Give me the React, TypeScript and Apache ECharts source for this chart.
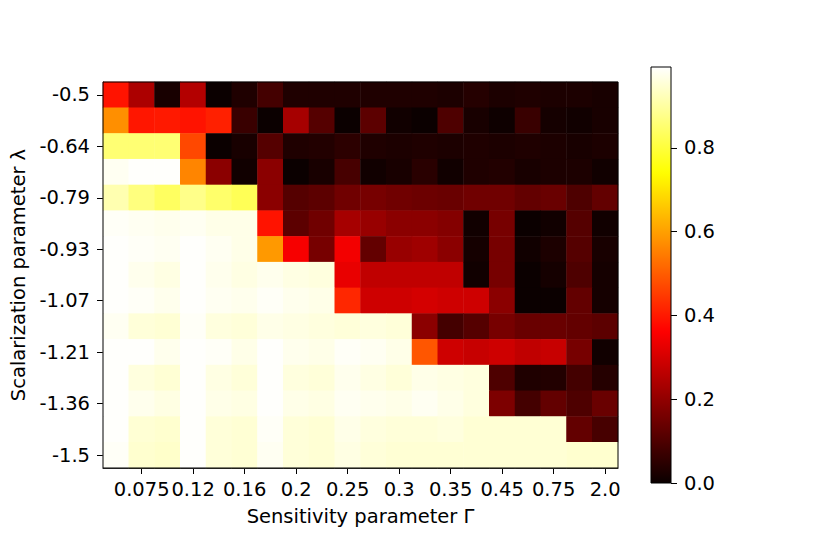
import React, { useEffect, useRef } from "react";
import * as echarts from "echarts";

const xCategories = [
  "0.05", "0.075", "0.1", "0.12", "0.14", "0.16", "0.18", "0.2", "0.22", "0.25",
  "0.28", "0.3", "0.32", "0.35", "0.4", "0.45", "0.6", "0.75", "1.0", "2.0",
];
const yCategories = [
  "-0.5", "-0.57", "-0.64", "-0.71", "-0.79", "-0.86", "-0.93", "-1.0",
  "-1.07", "-1.14", "-1.21", "-1.29", "-1.36", "-1.43", "-1.5",
];
const row0 = [0.39, 0.24, 0.02, 0.25, 0.0, 0.03, 0.085, 0.03, 0.03, 0.03, 0.03, 0.03, 0.03, 0.025, 0.04, 0.025, 0.03, 0.025, 0.025, 0.02];
const row1 = [0.575, 0.395, 0.4, 0.39, 0.41, 0.07, 0.0, 0.23, 0.11, 0.0, 0.12, 0.01, 0.0, 0.1, 0.02, 0.005, 0.07, 0.015, 0.01, 0.02];
const row2 = [0.855, 0.855, 0.855, 0.47, 0.0, 0.02, 0.11, 0.03, 0.035, 0.05, 0.03, 0.025, 0.03, 0.025, 0.03, 0.025, 0.03, 0.025, 0.02, 0.025];
const row3 = [0.98, 0.99, 0.99, 0.56, 0.19, 0.01, 0.19, 0.0, 0.02, 0.09, 0.01, 0.02, 0.045, 0.01, 0.03, 0.035, 0.02, 0.025, 0.025, 0.01];
const row4 = [0.915, 0.866, 0.836, 0.876, 0.846, 0.826, 0.19, 0.11, 0.12, 0.15, 0.16, 0.15, 0.145, 0.14, 0.15, 0.15, 0.13, 0.14, 0.1, 0.13];
const row5 = [0.985, 0.98, 0.975, 0.98, 0.97, 0.97, 0.39, 0.12, 0.15, 0.23, 0.21, 0.19, 0.19, 0.18, 0.01, 0.16, 0.0, 0.01, 0.11, 0.01];
const row6 = [0.99, 0.985, 0.98, 0.99, 0.98, 0.97, 0.59, 0.35, 0.16, 0.345, 0.13, 0.21, 0.22, 0.19, 0.015, 0.16, 0.01, 0.025, 0.11, 0.02];
const row7 = [0.99, 0.975, 0.965, 0.99, 0.975, 0.965, 0.975, 0.965, 0.96, 0.33, 0.27, 0.27, 0.27, 0.27, 0.01, 0.16, 0.0, 0.015, 0.1, 0.015];
const row8 = [0.99, 0.985, 0.975, 0.99, 0.98, 0.975, 0.985, 0.975, 0.97, 0.42, 0.29, 0.29, 0.3, 0.29, 0.29, 0.19, 0.0, 0.0, 0.13, 0.015];
const row9 = [0.98, 0.955, 0.95, 0.985, 0.96, 0.955, 0.97, 0.965, 0.96, 0.955, 0.96, 0.955, 0.19, 0.085, 0.11, 0.16, 0.14, 0.14, 0.13, 0.12];
const row10 = [0.99, 0.99, 0.975, 0.99, 0.985, 0.97, 0.99, 0.975, 0.97, 0.985, 0.98, 0.97, 0.49, 0.29, 0.28, 0.29, 0.27, 0.28, 0.16, 0.01];
const row11 = [0.99, 0.96, 0.95, 0.99, 0.965, 0.955, 0.99, 0.96, 0.955, 0.975, 0.965, 0.955, 0.97, 0.965, 0.96, 0.1, 0.03, 0.035, 0.085, 0.04];
const row12 = [0.99, 0.975, 0.965, 0.99, 0.97, 0.965, 0.99, 0.97, 0.965, 0.98, 0.975, 0.97, 0.98, 0.97, 0.96, 0.17, 0.085, 0.13, 0.1, 0.14];
const row13 = [0.99, 0.95, 0.945, 0.99, 0.955, 0.95, 0.985, 0.955, 0.95, 0.97, 0.96, 0.955, 0.955, 0.96, 0.95, 0.95, 0.95, 0.95, 0.13, 0.09];
const row14 = [0.985, 0.945, 0.94, 0.99, 0.955, 0.95, 0.98, 0.955, 0.95, 0.965, 0.955, 0.95, 0.95, 0.95, 0.95, 0.95, 0.95, 0.95, 0.945, 0.945];
const rows = [row0, row1, row2, row3, row4, row5, row6, row7, row8, row9, row10, row11, row12, row13, row14];
const colorbarTicks = [0, 0.2, 0.4, 0.6, 0.8];
const valueMin = 0;
const valueMax = 0.993;

const FONT = "DejaVu Sans";
const FS = 19.5;

function hot(t: number): string {
  const a = 0.365079;
  const b = 0.746032;
  const r = t < a ? 0.0416 + (1 - 0.0416) * (t / a) : 1;
  const g = t < a ? 0 : t < b ? (t - a) / (b - a) : 1;
  const bl = t < b ? 0 : (t - b) / (1 - b);
  const c = (v: number) => Math.round(Math.max(0, Math.min(1, v)) * 255);
  return `rgb(${c(r)},${c(g)},${c(bl)})`;
}

const N_STOPS = 101;
const hotColors = Array.from({ length: N_STOPS }, (_, i) => hot(i / (N_STOPS - 1)));

export default function App() {
  const ref = useRef<HTMLDivElement>(null);
  useEffect(() => {
    document.body.style.margin = "0";
    if (!ref.current) return;
    const chart = echarts.init(ref.current, undefined, { renderer: "svg" });

    const heatData: number[][] = [];
    rows.forEach((row, yi) => row.forEach((v, xi) => heatData.push([xi, yi, v])));

    const G = { left: 103, top: 82, width: 515, height: 386 };
    const CB = { left: 651, top: 67, width: 20, height: 416 };

    const gradient = new echarts.graphic.LinearGradient(
      0, 1, 0, 0,
      hotColors.map((c, i) => ({ offset: i / (N_STOPS - 1), color: c }))
    );

    chart.setOption({
      animation: false,
      backgroundColor: "#fff",
      textStyle: { fontFamily: FONT },
      grid: [
        { left: G.left, top: G.top, width: G.width, height: G.height },
        { left: CB.left, top: CB.top, width: CB.width, height: CB.height },
      ],
      xAxis: [
        {
          type: "category",
          gridIndex: 0,
          data: xCategories,
          name: "Sensitivity parameter Γ",
          nameLocation: "middle",
          nameGap: 38,
          nameTextStyle: { fontSize: FS, color: "#000", fontFamily: FONT },
          axisLine: { show: true, lineStyle: { color: "#000", width: 1 } },
          axisTick: {
            show: true,
            length: 6,
            alignWithLabel: true,
            interval: (i: number) => i % 2 === 1,
            lineStyle: { color: "#000", width: 1 },
          },
          axisLabel: {
            interval: (i: number) => i % 2 === 1,
            margin: 11,
            fontSize: FS,
            color: "#000",
            fontFamily: FONT,
            hideOverlap: false,
          },
          splitLine: { show: false },
          splitArea: { show: false },
        },
        {
          type: "category",
          gridIndex: 1,
          data: [""],
          show: false,
        },
      ],
      yAxis: [
        {
          type: "category",
          gridIndex: 0,
          data: yCategories,
          inverse: true,
          name: "Scalarization parameter λ",
          nameLocation: "middle",
          nameGap: 72,
          nameTextStyle: { fontSize: FS, color: "#000", fontFamily: FONT },
          axisLine: { show: true, lineStyle: { color: "#000", width: 1 } },
          axisTick: {
            show: true,
            length: 6,
            alignWithLabel: true,
            interval: (i: number) => i % 2 === 0,
            lineStyle: { color: "#000", width: 1 },
          },
          axisLabel: {
            interval: (i: number) => i % 2 === 0,
            margin: 13,
            fontSize: FS,
            color: "#000",
            fontFamily: FONT,
          },
          splitLine: { show: false },
          splitArea: { show: false },
        },
        {
          type: "value",
          gridIndex: 1,
          min: valueMin,
          max: valueMax,
          position: "right",
          axisLine: { show: false },
          axisTick: {
            show: true,
            length: 6,
            customValues: colorbarTicks,
            lineStyle: { color: "#000", width: 1 },
          },
          axisLabel: {
            customValues: colorbarTicks,
            margin: 13,
            fontSize: FS,
            color: "#000",
            fontFamily: FONT,
            formatter: (v: number) => v.toFixed(1),
          },
          splitLine: { show: false },
        },
      ],
      visualMap: {
        show: false,
        type: "continuous",
        min: valueMin,
        max: valueMax,
        dimension: 2,
        seriesIndex: 0,
        inRange: { color: hotColors },
      },
      series: [
        {
          type: "heatmap",
          xAxisIndex: 0,
          yAxisIndex: 0,
          data: heatData,
          itemStyle: { borderWidth: 0 },
          emphasis: { disabled: true },
        },
      ],
      graphic: [
        {
          type: "rect",
          z: 100,
          silent: true,
          shape: { x: G.left, y: G.top, width: G.width, height: G.height },
          style: { fill: "none", stroke: "#000", lineWidth: 1 },
        },
        {
          type: "rect",
          z: 100,
          silent: true,
          shape: { x: CB.left, y: CB.top, width: CB.width, height: CB.height },
          style: { fill: gradient, stroke: "#000", lineWidth: 1 },
        },
      ],
    });
    return () => chart.dispose();
  }, []);
  return <div ref={ref} style={{ width: 830, height: 554 }} />;
}
